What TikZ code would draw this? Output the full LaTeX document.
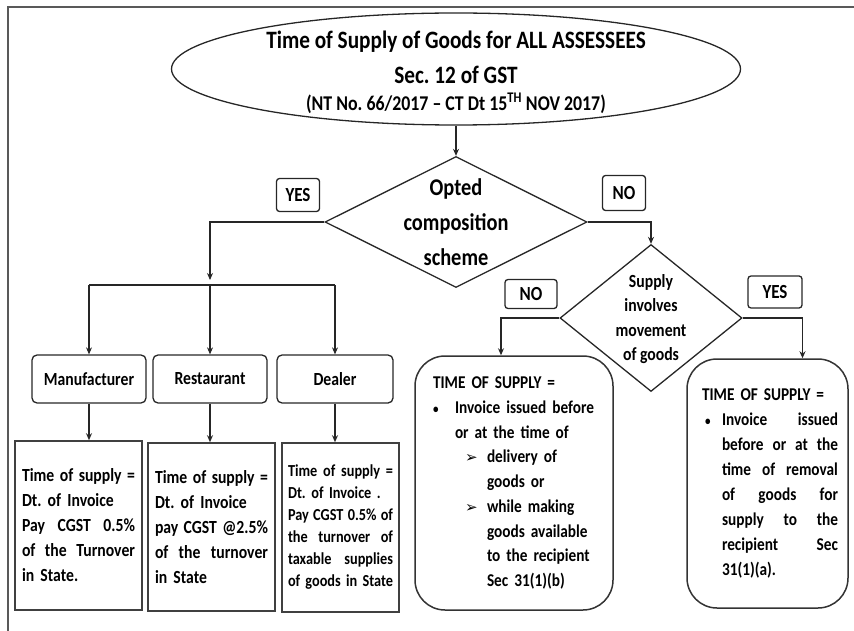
\documentclass[tikz,border=0pt]{standalone}
\usepackage{fontspec}
\setmainfont{Carlito}[FakeStretch=0.85]
\newfontfamily\symfont{DejaVu Sans}
\usetikzlibrary{shapes.geometric,arrows.meta,positioning,calc}
\frenchspacing

\newcommand{\fsz}[2]{\fontsize{#1}{#2}\selectfont\bfseries}
\newcommand{\jl}[2][\linewidth]{\makebox[#1][s]{\spaceskip=0.18em plus 1fil\relax #2}}
\newcommand{\pointer}{{\symfont\fontsize{15}{15}\selectfont ➢}}
\newcommand{\dotmark}{{\fontsize{13}{13}\selectfont\textbullet}}

\tikzset{
  frame/.style={draw=black!65, line width=2.5pt},
  wire/.style={draw=black!85, line width=1.1pt},
  arr/.style={wire, -{Stealth[length=7pt,width=6pt]}},
  oval/.style={ellipse, draw=black!85, line width=1.3pt, inner sep=0pt,
    minimum width=569pt, minimum height=112pt},
  decision/.style={diamond, draw=black!85, line width=1.3pt, inner sep=0pt},
  dtext/.style={align=center, inner sep=0pt},
  tag/.style={draw=black!85, line width=1.3pt, rounded corners=3pt,
    inner sep=0pt, font=\fsz{20}{24}},
  kind/.style={draw=black!85, line width=1.3pt, rounded corners=5pt,
    minimum height=48pt, inner sep=0pt, font=\fsz{18.5}{22}},
  rule/.style={draw=black!75, line width=1.6pt, align=left, inner ysep=0pt},
  roundbox/.style={draw=black!80, line width=1.5pt, rounded corners=30pt,
    align=left, inner ysep=0pt}
}

\begin{document}
\begin{tikzpicture}[x=1pt, y=-1pt]
\useasboundingbox (0,0) rectangle (854,631);
% frame (top and left edges only)
\draw[frame] (854,7) -- (8,7) -- (8,631);

% heading
\node[oval] (title) at (456,69) {};
\node[dtext, font=\fsz{25}{35}] (titletxt) at (456,72)
  {Time of Supply of Goods for ALL ASSESSEES\\Sec. 12 of GST\\[-8pt]
   {\fsz{21}{24}(NT No. 66/2017 – CT Dt 15\textsuperscript{TH} NOV 2017)}};

% first decision
\node[decision, minimum width=262pt, minimum height=131pt] (opt) at (456,222) {};
\node[dtext, font=\fsz{24}{35}] (opttxt) at (456,222) {Opted\\composition\\scheme};
\draw[arr] (title.south) -- (opt.north);

\node[tag, minimum width=43pt, minimum height=33pt] (yes1) at (298,195) {YES};
\node[tag, minimum width=43pt, minimum height=35pt] (no1) at (624,193) {NO};

% composition dealers
\foreach \nm/\txt/\x/\w in {mfr/Manufacturer/89/114, rest/Restaurant/210/114, dealer/Dealer/335/116}
  \node[kind, minimum width=\w pt] (\nm) at (\x,379) {\txt};

\coordinate (drop) at (0,280);
\coordinate (bus) at (0,285);
\draw[arr] (opt.west) -| (rest.north |- drop);
\draw[wire] (mfr.north |- bus) -- (dealer.north |- bus);
\foreach \nm in {mfr,rest,dealer}
  \draw[arr] (\nm.north |- bus) -- (\nm.north);

\node[rule, text width=113pt, inner xsep=7pt, minimum height=169pt, font=\fsz{18.5}{25}] (rule1) at (78.5,525.5)
  {\jl{Time of supply =}\\Dt. of Invoice\\\jl{Pay CGST 0.5\%}\\\jl{of the Turnover}\\in State.};
\node[rule, text width=113pt, inner xsep=7pt, minimum height=168pt, font=\fsz{18.5}{25}] (rule2) at (211.5,527)
  {\jl{Time of supply =}\\Dt. of Invoice\\\jl{pay CGST @2.5\%}\\\jl{of the turnover}\\in State};
\node[rule, text width=105pt, inner xsep=6pt, minimum height=169pt, font=\fsz{16.8}{22}] (rule3) at (340.5,527.5)
  {\jl{Time of supply =}\\Dt. of Invoice .\\\jl{Pay CGST 0.5\% of}\\\jl{the turnover of}\\\jl{taxable supplies}\\\jl{of goods in State}};

\foreach \nm/\rl in {mfr/rule1, rest/rule2, dealer/rule3}
  \draw[arr] (\nm.south) -- (\nm.south |- \rl.north);

% second decision
\node[decision, minimum width=182pt, minimum height=147pt] (move) at (651,318) {};
\node[dtext, font=\fsz{18.5}{24.5}] (movetxt) at (651,319) {Supply\\involves\\movement\\of goods};
\draw[arr] (opt.east) -| (move.north);

\node[tag, minimum width=52pt, minimum height=29pt] (no2) at (531,294) {NO};
\node[tag, minimum width=54pt, minimum height=32pt] (yes2) at (775,292) {YES};

\node[roundbox, text width=162pt, inner xsep=18pt, minimum height=254pt, font=\fsz{18}{24.75}] (bylist) at (514,483)
  {TIME OF SUPPLY =\\
   \makebox[22pt][l]{\dotmark}Invoice issued before\\
   \hspace*{22pt}or at the time of\\
   \hspace*{32pt}\makebox[22pt][l]{\pointer}delivery of\\
   \hspace*{54pt}goods or\\
   \hspace*{32pt}\makebox[22pt][l]{\pointer}while making\\
   \hspace*{54pt}goods available\\
   \hspace*{54pt}to the recipient\\
   \hspace*{54pt}Sec 31(1)(b)};
\node[roundbox, text width=141pt, inner xsep=10pt, minimum height=249pt, font=\fsz{18}{25}] (removal) at (767.5,483.5)
  {\hspace*{5pt}TIME OF SUPPLY =\\
   \hspace*{8pt}\makebox[17pt][l]{\dotmark}\jl[116pt]{Invoice issued}\\
   \hspace*{25pt}\jl[116pt]{before or at the}\\
   \hspace*{25pt}\jl[116pt]{time of removal}\\
   \hspace*{25pt}\jl[116pt]{of goods for}\\
   \hspace*{25pt}\jl[116pt]{supply to the}\\
   \hspace*{25pt}\jl[116pt]{recipient Sec}\\
   \hspace*{25pt}31(1)(a).};

\draw[arr] (move.west) -| ([xshift=-13pt]bylist.north);
\draw[arr] (move.east) -| ([xshift=35pt]removal.north);
\end{tikzpicture}
\end{document}
